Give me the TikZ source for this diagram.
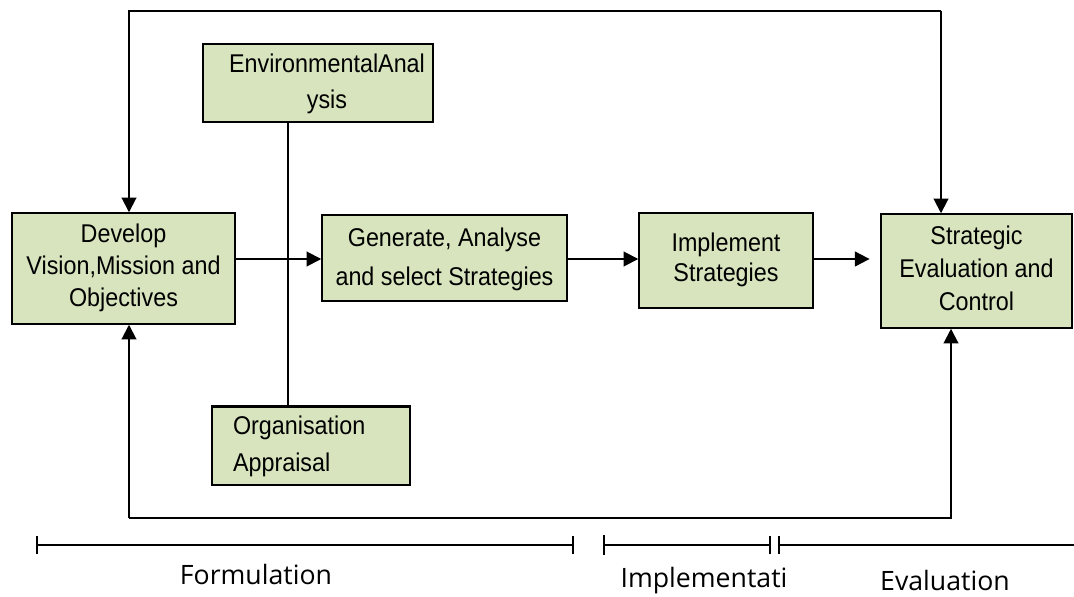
\documentclass[tikz,border=0pt]{standalone}
\usepackage{fontspec}
\usepackage{graphicx}
\setmainfont{Liberation Sans}
\newfontfamily\lblfont{Open Sans}
\usetikzlibrary{arrows.meta}
\definecolor{boxfill}{HTML}{D7E4BD}
% #1 column alignment, #2 line spacing (before stretch), #3 lines
\newcommand{\boxtext}[3]{\scalebox{1}[1.1]{\fontsize{17.5}{#2}\selectfont\begin{tabular}{@{}#1@{}}#3\end{tabular}}}
\begin{document}
\begin{tikzpicture}[x=0.75pt,y=-0.75pt,
  box/.style={draw=black,line width=1.1pt,fill=boxfill,inner sep=0pt,align=center},
  conn/.style={line width=1.5pt,-{Triangle[length=11pt,width=11pt]}},
  plain/.style={line width=1.5pt},
  bar/.style={line width=1pt},
  lbl/.style={font=\lblfont\fontsize{20}{24}\selectfont,anchor=base,inner sep=0pt}]
\useasboundingbox (0,0) rectangle (1074,596);
% boxes
\node[box,minimum width=167.25pt,minimum height=83.25pt]
  (dev) at (123.5,268.5) {\boxtext{c}{21.8pt}{Develop\\Vision,Mission and\\Objectives}};
\node[box,minimum width=172.5pt,minimum height=58.5pt]
  (env) at (318,83) {\boxtext{c}{24.5pt}{\hspace*{13.5pt}EnvironmentalAnal\\\hspace*{13.5pt}ysis}};
\node[box,minimum width=183.75pt,minimum height=64.5pt]
  (gen) at (444.5,258) {\boxtext{c}{26.5pt}{Generate, Analyse\\and select Strategies}};
\node[box,minimum width=130.5pt,minimum height=71.25pt]
  (imp) at (726,260.5) {\boxtext{c}{20.5pt}{Implement\\Strategies}};
\node[box,minimum width=143.25pt,minimum height=85.5pt]
  (strat) at (976.5,271) {\boxtext{c}{22.5pt}{Strategic\\Evaluation and\\Control}};
\node[box,minimum width=148.5pt,minimum height=58.5pt,inner xsep=15.75pt,text width=117pt,align=left]
  (org) at (311,446) {\boxtext{l}{25.2pt}{Organisation\\Appraisal}};
\draw[line width=2.2pt] (org.north west) -- (org.north east);
% routing points
\coordinate (t1) at (129,11);
\coordinate (t2) at (941,11);
\coordinate (b1) at (129,518);
\coordinate (b2) at (951,518);
\coordinate (v) at (288,0);
\coordinate (h) at (0,259);
% connectors
\draw[plain] (env.south -| v) -- (org.north -| v);
\draw[conn] (t2) -- (strat.north -| t2);
\draw[conn] (t2) -- (t1) -- (dev.north -| t1);
\draw[conn] (b1) -- (dev.south -| b1);
\draw[conn] (b1) -- (b2) -- (strat.south -| b2);
\draw[conn] (dev.east |- h) -- (gen.west |- h);
\draw[conn] (gen.east |- h) -- (imp.west |- h);
\draw[conn,shorten >=8pt] (imp.east |- h) -- (strat.west |- h);
% phase bars
\coordinate (f1) at (37,545);
\coordinate (f2) at (573,545);
\coordinate (i1) at (604,545);
\coordinate (i2) at (770,545);
\coordinate (e1) at (779,545);
\coordinate (e2) at (1074,545);
\draw[bar] (f1) -- (f2);
\draw[bar] ([yshift=-7pt]f1) -- ([yshift=7pt]f1);
\draw[bar] ([yshift=-7pt]f2) -- ([yshift=7pt]f2);
\draw[bar] (i1) -- (i2);
\draw[line width=2pt] ([yshift=-7.5pt]i1) -- ([yshift=7.5pt]i1);
\draw[bar] ([yshift=-7pt]i2) -- ([yshift=7pt]i2);
\draw[bar] (e1) -- (e2);
\draw[bar] ([yshift=-7pt]e1) -- ([yshift=7pt]e1);
% labels
\node[lbl] (lf) at (256,584) {Formulation};
\node[lbl] (li) at (704,587) {Implementati};
\node[lbl] (le) at (945,590) {Evaluation};
\end{tikzpicture}
\end{document}
